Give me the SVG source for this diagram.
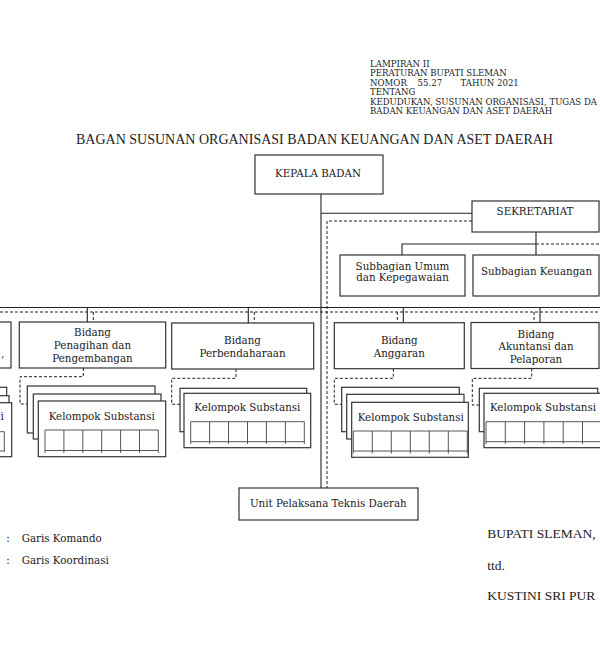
<svg xmlns="http://www.w3.org/2000/svg" width="600" height="670" viewBox="0 0 600 670">
<style>
.box{fill:#fff;stroke:#333;stroke-width:1.2}
.cmd{stroke:#222;stroke-width:1.1;fill:none}
.crd{stroke:#222;stroke-width:1;stroke-dasharray:3 2;fill:none}
.tbl{stroke:#444;stroke-width:0.9;fill:none}
.t{font-family:"DejaVu Serif",serif;font-size:10.3px;fill:#222;text-anchor:middle}
.h{font-family:"DejaVu Serif",serif;font-size:8.6px;fill:#222}
.ti{font-family:"Liberation Serif","Times New Roman",serif;font-size:14px;fill:#222;text-anchor:middle}
.sg{font-family:"Liberation Serif","Times New Roman",serif;font-size:13.5px;fill:#222}
.lg{font-family:"DejaVu Serif",serif;font-size:10.3px;fill:#222}
</style>
<rect x="0" y="0" width="600" height="670" fill="#fff"/>

<g id="header">
<text class="h" x="370" y="66.5">LAMPIRAN II</text>
<text class="h" x="370" y="76">PERATURAN BUPATI SLEMAN</text>
<text class="h" y="85.5"><tspan x="370">NOMOR</tspan><tspan x="417.5">55.27</tspan><tspan x="460.5">TAHUN 2021</tspan></text>
<text class="h" x="370" y="95">TENTANG</text>
<text class="h" x="370" y="104.5" textLength="227" lengthAdjust="spacingAndGlyphs">KEDUDUKAN, SUSUNAN ORGANISASI, TUGAS DA</text>
<text class="h" x="370" y="114">BADAN KEUANGAN DAN ASET DAERAH</text>
</g>

<g id="title">
<text class="ti" x="314.5" y="143.5">BAGAN SUSUNAN ORGANISASI BADAN KEUANGAN DAN ASET DAERAH</text>
</g>

<g id="connectors">
<path class="cmd" d="M321 194V488"/>
<path class="cmd" d="M321 213.3H472"/>
<path class="cmd" d="M536 232V255"/>
<path class="cmd" d="M402 255V244H536"/>
<path class="cmd" d="M0 307.5H600"/>
<path class="crd" d="M472 221H327V488"/>
<path class="crd" d="M536 244H600"/>
<path class="crd" d="M0 312H600"/>
<path class="cmd" d="M87.3 307.5V322"/>
<path class="crd" d="M93.3 312V322"/>
<path class="cmd" d="M248.3 307.5V323"/>
<path class="crd" d="M254.3 312V323"/>
<path class="cmd" d="M403.3 307.5V322.7"/>
<path class="crd" d="M397.3 312V322.7"/>
<path class="cmd" d="M540 307.5V322.5"/>
<path class="crd" d="M534 312V322.5"/>
<path class="crd" d="M83.3 368V376.7H20V404H27.3"/>
<path class="crd" d="M236 369V378.3H171.7V404.3H180"/>
<path class="crd" d="M393.3 368.7V378.3H334.3V404.3H341.7"/>
<path class="crd" d="M531.7 368.5V378.3H472.3V405H479.3"/>
</g>

<g id="kepala-badan">
<rect class="box" x="255" y="155" width="128" height="39"/>
<text class="t" x="318" y="177">KEPALA BADAN</text>
</g>

<g id="sekretariat">
<rect class="box" x="472" y="201" width="127" height="31"/>
<text class="t" x="535" y="215">SEKRETARIAT</text>
</g>

<g id="subbagian-umum">
<rect class="box" x="340" y="255" width="125" height="41"/>
<text class="t" x="402.5" y="269.5">Subbagian Umum</text>
<text class="t" x="402.5" y="281">dan Kepegawaian</text>
</g>

<g id="subbagian-keuangan">
<rect class="box" x="473" y="255" width="126" height="41"/>
<text class="t" x="536.5" y="275">Subbagian Keuangan</text>
</g>

<g id="bidang-kiri">
<rect class="box" x="-135" y="322" width="146" height="46"/>
<text class="t" x="4.5" y="357" style="text-anchor:end">,</text>
</g>

<g id="bidang-penagihan">
<rect class="box" x="19.3" y="322" width="146.4" height="46"/>
<text class="t" x="92.5" y="336">Bidang</text>
<text class="t" x="92.5" y="349">Penagihan dan</text>
<text class="t" x="92.5" y="361.5">Pengembangan</text>
</g>

<g id="bidang-perbendaharaan">
<rect class="box" x="171.7" y="323" width="142" height="46"/>
<text class="t" x="242.5" y="343.5">Bidang</text>
<text class="t" x="242.5" y="357">Perbendaharaan</text>
</g>

<g id="bidang-anggaran">
<rect class="box" x="334.3" y="322.7" width="130" height="46"/>
<text class="t" x="399.3" y="343.5">Bidang</text>
<text class="t" x="399.3" y="357">Anggaran</text>
</g>

<g id="bidang-akuntansi">
<rect class="box" x="471" y="322.5" width="128" height="46"/>
<text class="t" x="536" y="337.5">Bidang</text>
<text class="t" x="536" y="350">Akuntansi dan</text>
<text class="t" x="536" y="362.5">Pelaporan</text>
</g>

<g id="kelompok-kiri">
<rect class="box" x="-121" y="387.3" width="127.7" height="44.4"/>
<rect class="box" x="-119" y="395.7" width="128" height="43.5"/>
<rect class="box" x="-116" y="402.7" width="127.7" height="54"/>
<text class="t" x="3.8" y="420" style="text-anchor:end">i</text>
<path class="tbl" d="M-110 431.7H4.3V451.7M-110 451H4.3"/>
</g>

<g id="kelompok-penagihan">
<rect class="box" x="27.3" y="386" width="127.7" height="47"/>
<rect class="box" x="33.3" y="394" width="127.7" height="45"/>
<rect class="box" x="38.3" y="401" width="127.4" height="55.7"/>
<text class="t" x="101.7" y="419.5">Kelompok Substansi</text>
<path class="tbl" d="M45 430H158.3M45 450.5H158.3M45 430V453M63.9 430V453M82.8 430V453M101.7 430V453M120.6 430V453M139.5 430V453M158.3 430V453"/>
</g>

<g id="kelompok-perbendaharaan">
<rect class="box" x="180" y="388.3" width="126.7" height="43.4"/>
<rect class="box" x="184" y="393.3" width="126.7" height="54.4"/>
<text class="t" x="247.3" y="410.5">Kelompok Substansi</text>
<path class="tbl" d="M190.7 421.7H304.3M190.7 441.7H304.3M190.7 421.7V444M209.6 421.7V444M228.5 421.7V444M247.5 421.7V444M266.4 421.7V444M285.4 421.7V444M304.3 421.7V444"/>
</g>

<g id="kelompok-anggaran">
<rect class="box" x="341.7" y="387.3" width="117.6" height="44.4"/>
<rect class="box" x="346.7" y="394.3" width="117.3" height="44.7"/>
<rect class="box" x="351.7" y="402.3" width="116.6" height="55"/>
<text class="t" x="410.7" y="420.5">Kelompok Substansi</text>
<path class="tbl" d="M353.3 431H467.3M353.3 451H467.3M353.3 431V453.5M372.3 431V453.5M391.3 431V453.5M410.3 431V453.5M429.3 431V453.5M448.3 431V453.5M467.3 431V453.5"/>
</g>

<g id="kelompok-akuntansi">
<rect class="box" x="479.3" y="388.3" width="118.4" height="43.4"/>
<rect class="box" x="484" y="393.3" width="120" height="54.4"/>
<text class="t" x="543" y="410.5">Kelompok Substansi</text>
<path class="tbl" d="M486 421.7H604M486 441.7H604M486 421.7V444M505.3 421.7V444M524.6 421.7V444M543.9 421.7V444M563.2 421.7V444M582.5 421.7V444M601.8 421.7V444"/>
</g>

<g id="upt">
<rect class="box" x="239" y="488" width="179" height="32"/>
<text class="t" x="328.3" y="506.5">Unit Pelaksana Teknis Daerah</text>
</g>

<g id="legend">
<text class="lg" x="8" y="541.5" style="text-anchor:middle">:</text>
<text class="lg" x="21.7" y="541.5">Garis Komando</text>
<text class="lg" x="8" y="563.5" style="text-anchor:middle">:</text>
<text class="lg" x="21.7" y="563.5">Garis Koordinasi</text>
</g>

<g id="signature">
<text class="sg" x="487.3" y="538">BUPATI SLEMAN,</text>
<text class="sg" x="487.3" y="569.5">ttd.</text>
<text class="sg" x="487.3" y="600">KUSTINI SRI PUR</text>
</g>
</svg>
